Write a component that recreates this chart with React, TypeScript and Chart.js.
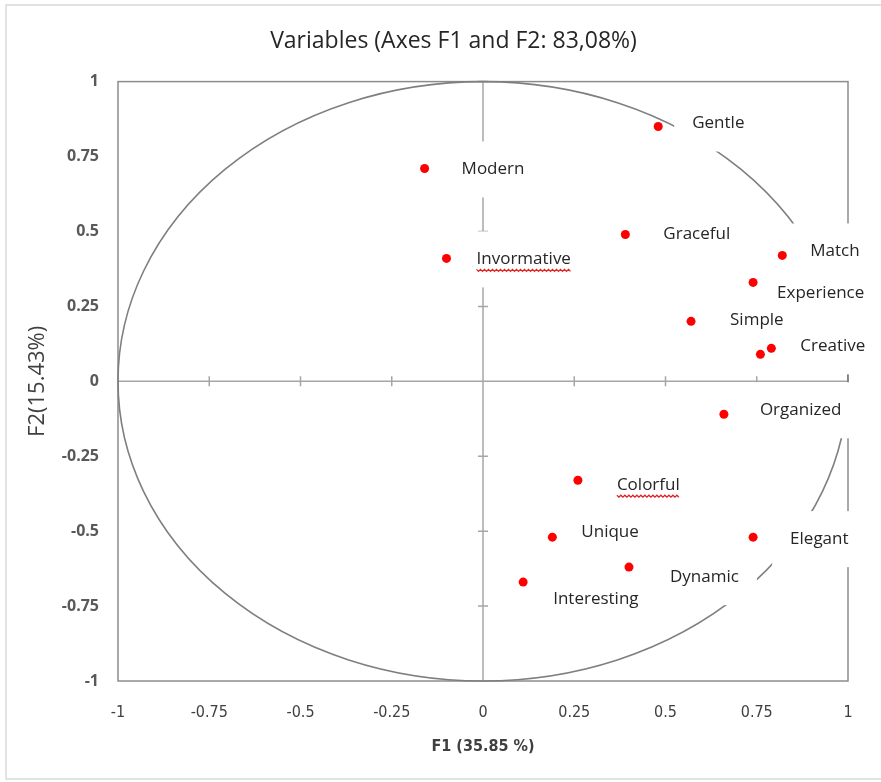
import React, { useEffect, useRef } from "react";
import { Chart, registerables } from "chart.js";

Chart.register(...registerables);

// ---- data ----
const variableNames = [
  "Gentle", "Modern", "Graceful", "Invormative", "Match", "Experience", "Simple",
  "Creative", "", "Organized", "Colorful", "Unique", "Elegant", "Dynamic", "Interesting",
];
const f1Values = [0.48, -0.16, 0.39, -0.1, 0.82, 0.74, 0.57, 0.79, 0.76, 0.66, 0.26, 0.19, 0.74, 0.4, 0.11];
const f2Values = [0.85, 0.71, 0.49, 0.41, 0.42, 0.33, 0.2, 0.11, 0.09, -0.11, -0.33, -0.52, -0.52, -0.62, -0.67];
const axisTicks = [-1, -0.75, -0.5, -0.25, 0, 0.25, 0.5, 0.75, 1];
const misspelled = ["Invormative", "Colorful"];

const chartTitle = "Variables (Axes F1 and F2: 83,08%)";
const xTitle = "F1 (35.85 %)";
const yTitle = "F2(15.43%)";

// label placement (pixel offsets from each point), style only
const labelDx = [34, 37, 38, 30, 28, 24, 39, 29, 0, 36, 39, 29, 37, 41, 30];
const labelDy = [-3, 1, 0, 1, -4, 11, -1, -2, 0, -4, 5, -5, 2, 10, 17];

const FONT = '"Open Sans", "DejaVu Sans", sans-serif';
const NARROW = '"Liberation Sans Narrow", "DejaVu Sans Condensed", "Roboto", sans-serif';

const decorPlugin = {
  id: "decor",
  beforeDraw(chart: any) {
    const { ctx } = chart;
    ctx.save();
    ctx.strokeStyle = "#d9d9d9";
    ctx.lineWidth = 1.5;
    ctx.strokeRect(6, 5, 900, 774);
    ctx.restore();
  },
  beforeDatasetsDraw(chart: any) {
    const { ctx, chartArea, scales } = chart;
    const { left, top, right, bottom } = chartArea;
    const x = scales.x;
    const y = scales.y;
    const x0 = x.getPixelForValue(0);
    const y0 = y.getPixelForValue(0);
    ctx.save();

    // plot frame
    ctx.strokeStyle = "#8c8c8c";
    ctx.lineWidth = 1.5;
    ctx.strokeRect(left, top, right - left, bottom - top);

    // central axes with tick marks
    ctx.strokeStyle = "#a6a6a6";
    ctx.lineWidth = 1.5;
    ctx.beginPath();
    ctx.moveTo(left, y0);
    ctx.lineTo(right, y0);
    ctx.moveTo(x0, top);
    ctx.lineTo(x0, bottom);
    axisTicks.forEach((v) => {
      const px = x.getPixelForValue(v);
      const py = y.getPixelForValue(v);
      ctx.moveTo(px, y0 - 5);
      ctx.lineTo(px, y0 + 5);
      ctx.moveTo(x0 - 5, py);
      ctx.lineTo(x0 + 5, py);
    });
    ctx.stroke();

    // correlation circle
    ctx.strokeStyle = "#7f7f7f";
    ctx.lineWidth = 1.6;
    ctx.beginPath();
    ctx.ellipse(x0, y0, x.getPixelForValue(1) - x0, y0 - y.getPixelForValue(1), 0, 0, Math.PI * 2);
    ctx.stroke();

    // labels: white boxes first, then text
    ctx.font = `17px ${FONT}`;
    ctx.textBaseline = "middle";
    ctx.textAlign = "left";
    const items = variableNames
      .map((name, i) => {
        if (!name) return null;
        const tx = x.getPixelForValue(f1Values[i]) + labelDx[i];
        const ty = y.getPixelForValue(f2Values[i]) + labelDy[i];
        const w = ctx.measureText(name).width;
        return { name, tx, ty, w };
      })
      .filter(Boolean) as { name: string; tx: number; ty: number; w: number }[];
    ctx.fillStyle = "#ffffff";
    items.forEach((it) => ctx.fillRect(it.tx - 18, it.ty - 28, it.w + 36, 56));
    ctx.fillStyle = "#262626";
    items.forEach((it) => ctx.fillText(it.name, it.tx, it.ty));
    // spell-check style wavy underline
    ctx.strokeStyle = "#e02020";
    ctx.lineWidth = 1.2;
    items.forEach((it) => {
      if (!misspelled.includes(it.name)) return;
      ctx.beginPath();
      const base = it.ty + 10;
      for (let k = 0; k <= it.w; k += 2) {
        const yy = base + ((k / 2) % 2 === 0 ? 0 : 2);
        if (k === 0) ctx.moveTo(it.tx + k, yy);
        else ctx.lineTo(it.tx + k, yy);
      }
      ctx.stroke();
    });
    ctx.restore();
  },
};

export default function App() {
  const canvasRef = useRef<HTMLCanvasElement | null>(null);

  useEffect(() => {
    document.body.style.margin = "0";
    const canvas = canvasRef.current;
    if (!canvas) return;
    const points = f1Values.map((v, i) => ({ x: v, y: f2Values[i] }));
    const tickLabel = (v: any) => String(Math.round(Number(v) * 100) / 100);
    const chart = new Chart(canvas, {
      type: "scatter",
      data: {
        datasets: [
          {
            label: "Variables",
            data: points,
            backgroundColor: "#ff0000",
            borderWidth: 0,
            pointRadius: 4.5,
            pointHoverRadius: 4.5,
          },
        ],
      },
      options: {
        animation: false,
        responsive: false,
        maintainAspectRatio: false,
        layout: { padding: { left: 26, right: 0, top: 0, bottom: 0 } },
        plugins: {
          legend: { display: false },
          tooltip: { enabled: false },
          title: {
            display: true,
            text: chartTitle,
            color: "#262626",
            font: { family: FONT, size: 23, weight: "normal" },
            padding: { top: 28, bottom: 26 },
          },
        },
        scales: {
          x: {
            type: "linear",
            min: -1,
            max: 1,
            grid: { display: false, drawTicks: false },
            border: { display: false },
            afterBuildTicks: (s: any) => {
              s.ticks = axisTicks.map((v) => ({ value: v }));
            },
            afterFit: (s: any) => {
              s.height = 101;
            },
            ticks: {
              callback: tickLabel,
              color: "#404040",
              padding: 22,
              maxRotation: 0,
              autoSkip: false,
              font: { family: NARROW, size: 16 },
            },
            title: {
              display: true,
              text: xTitle,
              color: "#404040",
              font: { family: NARROW, size: 16, weight: "bold" },
              padding: { top: 0, bottom: 26 },
            },
          },
          y: {
            type: "linear",
            min: -1,
            max: 1,
            grid: { display: false, drawTicks: false },
            border: { display: false },
            afterBuildTicks: (s: any) => {
              s.ticks = axisTicks.map((v) => ({ value: v }));
            },
            afterFit: (s: any) => {
              s.width = 92;
            },
            ticks: {
              callback: tickLabel,
              color: "#595959",
              padding: 19,
              autoSkip: false,
              font: { family: FONT, size: 16, weight: "bold" },
            },
            title: {
              display: true,
              text: yTitle,
              color: "#404040",
              font: { family: FONT, size: 22, weight: "normal" },
              padding: { top: -1, bottom: 0 },
            },
          },
          y2: {
            type: "linear",
            position: "right",
            display: true,
            grid: { display: false, drawTicks: false },
            border: { display: false },
            ticks: { display: false },
            afterFit: (s: any) => {
              s.width = 33;
            },
          },
        },
      },
      plugins: [decorPlugin],
    } as any);
    return () => chart.destroy();
  }, []);

  return (
    <div style={{ width: 881, height: 782, position: "relative" }}>
      <canvas ref={canvasRef} width={881} height={782} style={{ display: "block" }} />
    </div>
  );
}
